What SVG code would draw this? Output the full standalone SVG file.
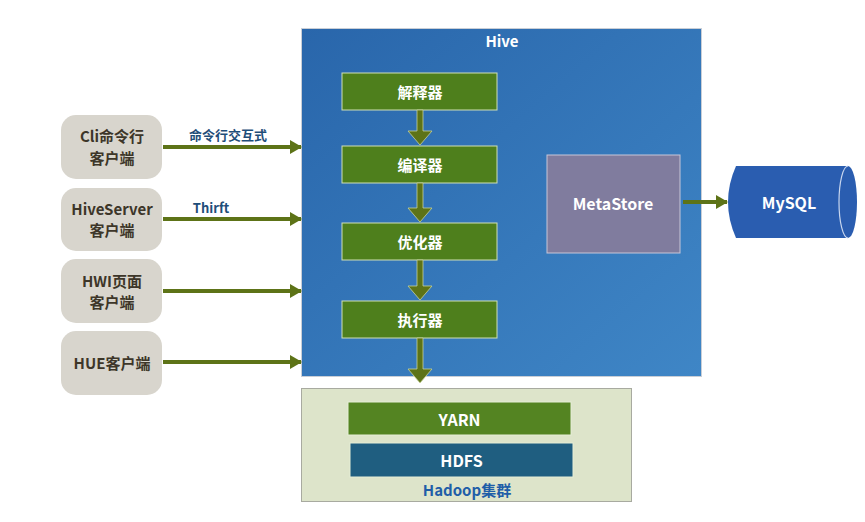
<svg xmlns="http://www.w3.org/2000/svg" width="865" height="522" viewBox="0 0 865 522">
<defs>
<style>
.t{font-family:"Noto Sans CJK SC","Noto Sans",sans-serif;font-weight:bold;text-anchor:middle;dominant-baseline:central}
.client rect{fill:#d8d5cd}
.client text{fill:#3d3629;font-size:15px}
.step rect{fill:#4e7f1c;stroke:#cfe0b4;stroke-width:1}
.step text{fill:#fff;font-size:15px}
.w{fill:#fff}
.lbl{fill:#1f4e79;font-size:13px}
.ln{stroke:#5d7317;stroke-width:4;fill:none}
.dn{fill:#5d7317;stroke:#c6d09a;stroke-width:0.8}
</style>
<linearGradient id="hg" x1="0" y1="0" x2="1" y2="1">
<stop offset="0" stop-color="#2966ab"/>
<stop offset="1" stop-color="#3f86c6"/>
</linearGradient>
<marker id="ah" markerUnits="userSpaceOnUse" markerWidth="12" markerHeight="14" refX="11" refY="7" orient="auto">
<path d="M0,0 L12,7 L0,14 Z" fill="#5d7317"/>
</marker>
</defs>
<rect width="865" height="522" fill="#fff"/>

<g id="hive">
<rect x="301.5" y="28.5" width="400" height="348" fill="url(#hg)" stroke="#c9ced6" stroke-width="1"/>
<text class="t w" x="502" y="40" font-size="15">Hive</text>
</g>

<g id="client-cli" class="client">
<rect x="61" y="115" width="101" height="64" rx="15"/>
<text class="t" x="112" y="135">Cli命令行</text>
<text class="t" x="112" y="157">客户端</text>
</g>
<g id="client-hiveserver" class="client">
<rect x="61" y="188" width="101" height="63" rx="15"/>
<text class="t" x="112" y="208">HiveServer</text>
<text class="t" x="112" y="229">客户端</text>
</g>
<g id="client-hwi" class="client">
<rect x="61" y="259" width="101" height="64" rx="15"/>
<text class="t" x="112" y="280">HWI页面</text>
<text class="t" x="112" y="301">客户端</text>
</g>
<g id="client-hue" class="client">
<rect x="61" y="331" width="101" height="64" rx="15"/>
<text class="t" x="112" y="362">HUE客户端</text>
</g>

<g id="interpreter" class="step">
<rect x="342" y="73" width="155" height="37"/>
<text class="t" x="420" y="91.5">解释器</text>
</g>
<g id="compiler" class="step">
<rect x="342" y="146" width="155" height="37"/>
<text class="t" x="420" y="164.5">编译器</text>
</g>
<g id="optimizer" class="step">
<rect x="342" y="223" width="155" height="37"/>
<text class="t" x="420" y="241.5">优化器</text>
</g>
<g id="executor" class="step">
<rect x="342" y="301" width="155" height="37"/>
<text class="t" x="420" y="319.5">执行器</text>
</g>

<g id="metastore">
<rect x="547" y="155" width="133" height="98" fill="#807c9e" stroke="#c8c6d8" stroke-width="1"/>
<text class="t w" x="613" y="203" font-size="16">MetaStore</text>
</g>

<g id="mysql">
<path d="M736,166 L848,166 A9,36 0 0 1 848,238 L736,238 Q720,202 736,166 Z" fill="#2a5db0"/>
<path d="M848,166 A9,36 0 0 0 848,238" fill="none" stroke="#c8d6ee" stroke-width="1.2"/>
<text class="t w" x="789" y="202" font-size="16">MySQL</text>
</g>

<g id="hadoop">
<rect x="301.5" y="388.5" width="330" height="113" fill="#dde4ca" stroke="#a8aaa0" stroke-width="1"/>
<rect x="348" y="402" width="223" height="33" fill="#548422" stroke="#e6edd6" stroke-width="1"/>
<text class="t w" x="459.5" y="418.5" font-size="16">YARN</text>
<rect x="350" y="443" width="223" height="34" fill="#1f5e80" stroke="#e6edd6" stroke-width="1"/>
<text class="t w" x="461.5" y="460" font-size="16">HDFS</text>
<text class="t" x="467" y="489" font-size="15" fill="#1f5ea8">Hadoop集群</text>
</g>

<g id="connectors">
<line class="ln" x1="163" y1="147" x2="301" y2="147" marker-end="url(#ah)"/>
<line class="ln" x1="163" y1="219" x2="301" y2="219" marker-end="url(#ah)"/>
<line class="ln" x1="163" y1="291" x2="301" y2="291" marker-end="url(#ah)"/>
<line class="ln" x1="163" y1="362" x2="301" y2="362" marker-end="url(#ah)"/>
<text class="t lbl" x="228" y="134">命令行交互式</text>
<text class="t lbl" x="211" y="207">Thirft</text>
<path class="dn" d="M417,110 L423,110 L423,131 L432,131 L420,145 L408,131 L417,131 Z"/>
<path class="dn" d="M417,183 L423,183 L423,208 L432,208 L420,222 L408,208 L417,208 Z"/>
<path class="dn" d="M417,260 L423,260 L423,286 L432,286 L420,300 L408,286 L417,286 Z"/>
<path class="dn" d="M417,338 L423,338 L423,369 L432,369 L420,383 L408,369 L417,369 Z"/>
<line class="ln" x1="683" y1="202" x2="727" y2="202" marker-end="url(#ah)"/>
</g>
</svg>
